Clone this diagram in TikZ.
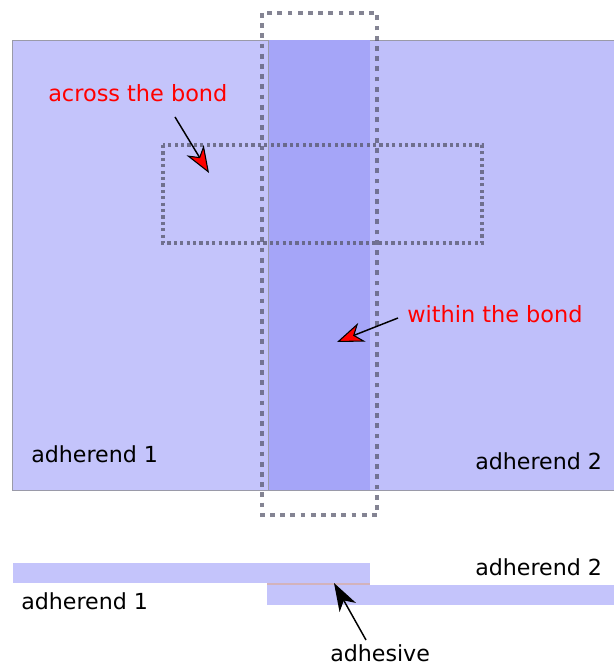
\documentclass[tikz,border=0pt]{standalone}
\usepackage{fontspec}
\setmainfont{DejaVu Sans}
\usetikzlibrary{arrows.meta}
\definecolor{adhA}{HTML}{C4C4FB}
\definecolor{adhB}{HTML}{BFBFFA}
\definecolor{bondC}{HTML}{A5A5F8}
\definecolor{edgeG}{HTML}{9A9AA8}
\definecolor{dotG}{HTML}{55556A}
\tikzset{
  x=0.75pt,y=-0.75pt,
  lbl/.style={font=\fontsize{16.6pt}{20pt}\selectfont,text=black,inner sep=0pt,anchor=base west},
  redlbl/.style={lbl,text=red,font=\fontsize{16.8pt}{20pt}\selectfont},
  redarrow/.style={draw=black,line width=1.1pt,-{Stealth[fill=red,length=20pt,width=15pt,inset=6pt,line width=.8pt]}},
  blackarrow/.style={draw=black,line width=1.1pt,-{Stealth[fill=black,length=21pt,width=14pt,inset=6pt]}},
  bigdots/.style={draw=dotG,draw opacity=.72,line width=3.6pt,dash pattern=on 3.6pt off 4.05pt},
  smalldots/.style={draw=dotG,draw opacity=.75,line width=2.4pt,dash pattern=on 2.4pt off 2.4pt},
}
\begin{document}
\begin{tikzpicture}
\useasboundingbox (0,0) rectangle (614,666);
\fill[white] (0,0) rectangle (614,666);
% plan view
\path[fill=adhA,draw=edgeG,line width=.6pt] (12.5,40.5) rectangle (268,490);
\path[fill=adhB,draw=none] (268,40) rectangle (614,490);
\draw[edgeG,line width=.6pt] (268,40) -- (614,40) (268,490) -- (614,490);
\path[fill=bondC,draw=none] (268,40.5) rectangle (370,490);
\draw[edgeG,line width=.6pt] (268,40.5) -- (268,490);
\draw[bigdots] (262,13) rectangle (377,515);
\draw[smalldots] (163,145) rectangle (482,243);
% labels plan
\node[redlbl] (across) at (48,102) {across the bond};
\node[redlbl] (within) at (407,322) {within the bond};
\node[lbl] (adA) at (31,462) {adherend 1};
\node[lbl] (adB) at (475,469) {adherend 2};
\coordinate (acrossTail) at (175,117);
\coordinate (acrossTip) at (209,173);
\coordinate (withinTail) at (398,318);
\coordinate (withinTip) at (337,342);
\draw[redarrow] (acrossTail) -- (acrossTip);
\draw[redarrow] (withinTail) -- (withinTip);
% section view
\fill[adhA] (13,563) rectangle (370,583);
\fill[adhA] (267,585) rectangle (614,605);
\fill[orange!25!adhA] (267,583) rectangle (370,585);
\node[lbl] (secA) at (21,609) {adherend 1};
\node[lbl] (secB) at (475,575) {adherend 2};
\node[lbl] (adh) at (330,661) {adhesive};
\coordinate (adhTail) at (366,640);
\coordinate (adhTip) at (334,583);
\draw[blackarrow] (adhTail) -- (adhTip);
\end{tikzpicture}
\end{document}
